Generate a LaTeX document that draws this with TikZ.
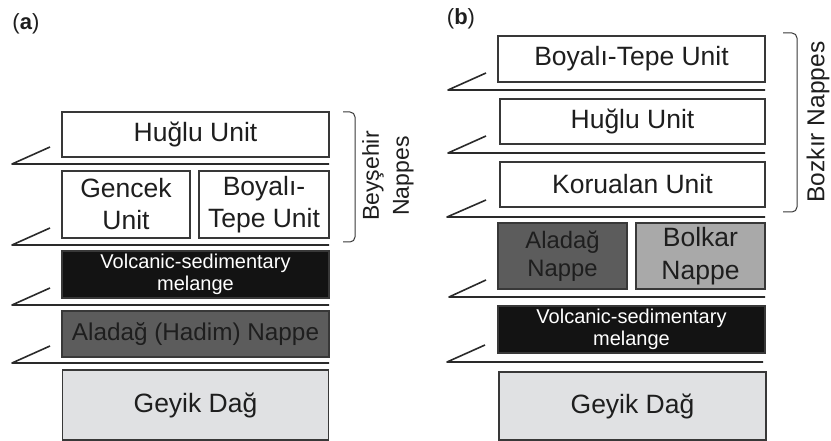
\documentclass[tikz,border=0pt]{standalone}
\usepackage{fontspec}
\setmainfont{Liberation Sans}
\definecolor{boxline}{HTML}{383838}
\definecolor{txt}{HTML}{1E1E1E}
\definecolor{volc}{HTML}{131313}
\definecolor{darkg}{HTML}{5C5C5C}
\definecolor{midg}{HTML}{A9A9A9}
\definecolor{lightg}{HTML}{E0E1E3}
\definecolor{thrustc}{HTML}{2A2A2A}
\begin{document}
\begin{tikzpicture}[x=1pt,y=-1pt,
  unitbox/.style={draw=boxline, line width=1.3pt, fill=white, inner sep=0pt, align=center, text=txt,
    font=\fontsize{26.5}{32}\selectfont},
  volcbox/.style={unitbox, fill=volc, text=white, font=\fontsize{20}{22}\selectfont},
  darkbox/.style={unitbox, fill=darkg},
  midbox/.style={unitbox, fill=midg},
  lightbox/.style={unitbox, fill=lightg},
  thrust/.style={draw=thrustc, line width=1.6pt, line join=round},
  brace/.style={draw=boxline, line width=1pt, rounded corners=5pt},
  sidelabel/.style={rotate=90, align=center, text=txt, inner sep=0pt},
  panel/.style={text=txt, inner sep=0pt, font=\fontsize{22}{26}\selectfont}]
\useasboundingbox (0,0) rectangle (831,441);

% ---------------- panel (a) ----------------
\node[panel] (la) at (26,24) {(\textbf{a})};
\node[unitbox, minimum width=267pt, minimum height=45pt] (huglua) at (195.5,134.5) {Huğlu Unit};
\node[unitbox, minimum width=128pt, minimum height=67pt] (gencek) at (126,204.5) {Gencek\\Unit};
\node[unitbox, minimum width=130pt, minimum height=67pt] (boyalia) at (264,204.5) {Boyalı-\\Tepe Unit};
\node[volcbox, minimum width=267pt, minimum height=47pt] (volca) at (195.5,274.5) {Volcanic-sedimentary\\melange};
\node[darkbox, minimum width=267pt, minimum height=46pt, font=\fontsize{24.3}{28}\selectfont] (aladaga) at (195.5,334) {Aladağ (Hadim) Nappe};
\node[lightbox, minimum width=266pt, minimum height=70pt] (geyika) at (195.5,405) {Geyik Dağ};

\draw[thrust] (50,147) -- (12,164) -- (329,164);
\draw[thrust] (50,228) -- (12,245) -- (329,245);
\draw[thrust] (50,288) -- (12,305) -- (329,305);
\draw[thrust] (50,346) -- (12,363) -- (329,363);

\draw[brace] (343,112) -- (355,112) -- (355,242) -- (343,242);
\node[sidelabel, font=\fontsize{23}{30}\selectfont] (beysehir) at (388,176) {Beyşehir\\Nappes};

% ---------------- panel (b) ----------------
\node[panel] (lb) at (461,19) {(\textbf{b})};
\node[unitbox, minimum width=267pt, minimum height=46pt] (boyalib) at (631.5,59) {Boyalı-Tepe Unit};
\node[unitbox, minimum width=265pt, minimum height=45pt] (huglub) at (632.5,121.5) {Huğlu Unit};
\node[unitbox, minimum width=265pt, minimum height=45pt] (korualan) at (632.5,184.5) {Korualan Unit};
\node[darkbox, minimum width=129pt, minimum height=66pt, font=\fontsize{23.8}{28}\selectfont] (aladagb) at (562.5,256) {Aladağ\\Nappe};
\node[midbox, minimum width=129pt, minimum height=66pt, font=\fontsize{26.5}{33}\selectfont] (bolkar) at (700.5,256) {Bolkar\\Nappe};
\node[volcbox, minimum width=267pt, minimum height=47pt] (volcb) at (631.5,329.5) {Volcanic-sedimentary\\melange};
\node[lightbox, minimum width=267pt, minimum height=68pt] (geyikb) at (632.5,406) {Geyik Dağ};

\draw[thrust] (486,73) -- (448,90) -- (765,90);
\draw[thrust] (486,136) -- (448,153) -- (765,153);
\draw[thrust] (486,200) -- (447,217) -- (765,217);
\draw[thrust] (486,280) -- (449,297) -- (765,297);
\draw[thrust] (485,345) -- (447,362) -- (763,362);

\draw[brace] (783,33) -- (797,33) -- (797,212) -- (783,212);
\node[sidelabel, font=\fontsize{24.5}{30}\selectfont] (bozkir) at (818,122) {Bozkır Nappes};
\end{tikzpicture}
\end{document}
